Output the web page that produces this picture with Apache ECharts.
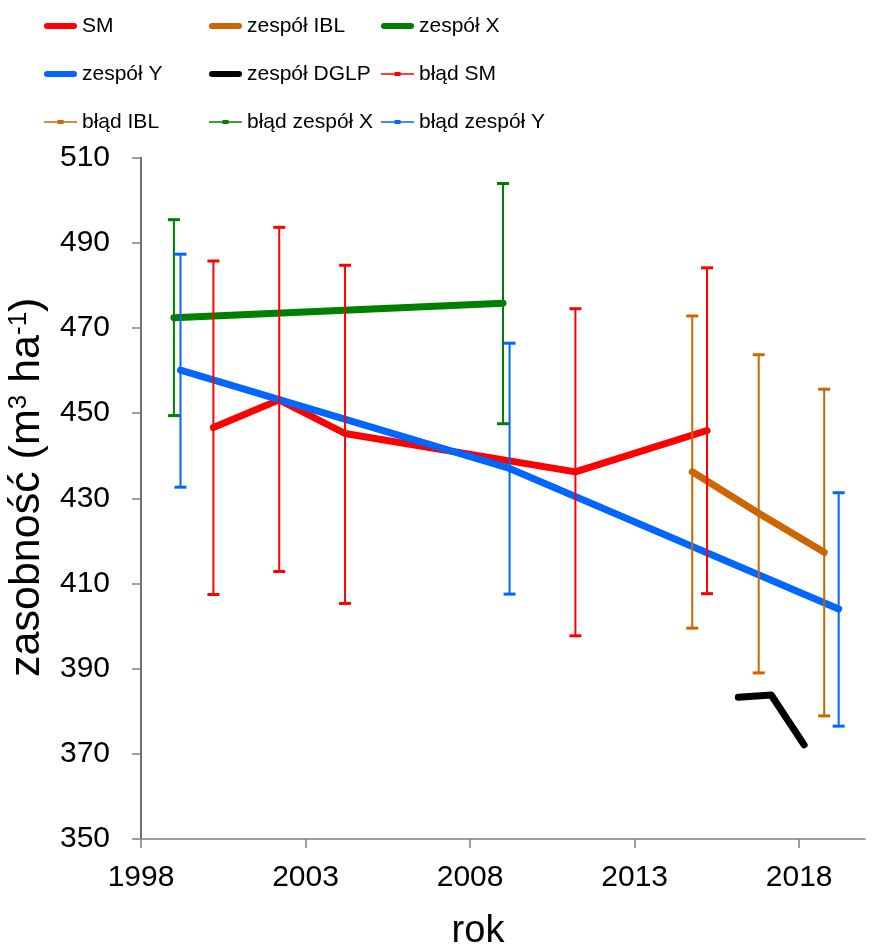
<!DOCTYPE html>
<html>
<head>
<meta charset="utf-8">
<script src="https://cdn.jsdelivr.net/npm/echarts@6/dist/echarts.min.js"></script>
<style>html,body{margin:0;padding:0;background:#fff}#c{width:877px;height:944px}</style>
</head>
<body>
<div id="c"></div>
<script>
// ---- data ----
const xTicks = [1998, 2003, 2008, 2013, 2018];
const yTicks = [350, 370, 390, 410, 430, 450, 470, 490, 510];

const smYears = [2000.2, 2002.2, 2004.2, 2011.2, 2015.2];
const smValues = [446.6, 453.1, 445.2, 436.2, 445.9];
const smLow = [407.4, 412.8, 405.3, 397.7, 407.6];
const smHigh = [485.7, 493.6, 484.7, 474.5, 484.1];

const iblYears = [2014.75, 2016.77, 2018.76];
const iblValues = [436.2, 426.5, 417.3];
const iblLow = [399.5, 389.0, 378.9];
const iblHigh = [472.8, 463.7, 455.6];

const xYears = [1999, 2009];
const xValues = [472.4, 475.8];
const xLow = [449.4, 447.5];
const xHigh = [495.4, 503.9];

const yYears = [1999.2, 2009.2, 2019.2];
const yValues = [460.1, 437.0, 404.0];
const yLow = [432.6, 407.5, 376.5];
const yHigh = [487.3, 466.4, 431.3];

const dglpYears = [2016.15, 2017.15, 2018.15];
const dglpValues = [383.3, 383.8, 372.1];

// legend columns (reading order of the reference legend grid)
const legendCol1 = ['SM', 'zespół Y', 'błąd IBL'];
const legendCol2 = ['zespół IBL', 'zespół DGLP', 'błąd zespół X'];
const legendCol3 = ['zespół X', 'błąd SM', 'błąd zespół Y'];

// ---- helpers ----
const pairs = (xs, ys) => xs.map((x, i) => [x, ys[i]]);
const triples = (xs, lo, hi) => xs.map((x, i) => [x, lo[i], hi[i]]);

const C_RED = '#FF0000', C_ORANGE = '#CC6600', C_GREEN = '#008000', C_BLUE = '#0066FF', C_BLACK = '#000000';

function lineSeries(name, xs, ys, color) {
  return {
    name, type: 'line', data: pairs(xs, ys), symbol: 'none', showSymbol: false,
    color: color,
    lineStyle: { color, width: 7, cap: 'round', join: 'round' },
    z: 2, animation: false
  };
}

function errSeries(name, xs, lo, hi, color) {
  return {
    name, type: 'custom', data: triples(xs, lo, hi),
    encode: { x: 0, y: [1, 2] },
    itemStyle: { color },
    z: 5, animation: false,
    renderItem: function (params, api) {
      const x = api.value(0), l = api.value(1), h = api.value(2);
      const pL = api.coord([x, l]);
      const pH = api.coord([x, h]);
      const hw = 6;
      return {
        type: 'group',
        children: [
          { type: 'line', shape: { x1: pL[0], y1: pL[1], x2: pH[0], y2: pH[1] }, style: { stroke: color, lineWidth: 2 } },
          { type: 'line', shape: { x1: pH[0] - hw, y1: pH[1], x2: pH[0] + hw, y2: pH[1] }, style: { stroke: color, lineWidth: 3 } },
          { type: 'line', shape: { x1: pL[0] - hw, y1: pL[1], x2: pL[0] + hw, y2: pL[1] }, style: { stroke: color, lineWidth: 3 } }
        ]
      };
    }
  };
}

const thickIcon = 'path://M3,0 L30,0 A3,3 0 0 1 30,6 L3,6 A3,3 0 0 1 3,0 Z';
const errIcon = 'path://M0,2.2 L33,2.2 L33,3.8 L0,3.8 Z M13.5,1 L19.5,1 L19.5,5 L13.5,5 Z';
const iconFor = name => (name.indexOf('błąd') === 0 ? errIcon : thickIcon);

const FONT = "'Liberation Sans', Arial, sans-serif";

function legendColumn(names, left) {
  return {
    left: left, top: 6,
    orient: 'vertical',
    itemWidth: 33, itemHeight: 6, itemGap: 18,
    selectedMode: false,
    textStyle: { fontFamily: FONT, fontSize: 21, color: '#000', lineHeight: 30 },
    data: names.map(n => ({ name: n, icon: iconFor(n) }))
  };
}

const chart = echarts.init(document.getElementById('c'), null, { renderer: 'canvas' });
chart.setOption({
  animation: false,
  backgroundColor: '#fff',
  grid: { left: 141, right: 12, top: 157.5, bottom: 105, containLabel: false, outerBoundsMode: 'none' },
  legend: [
    legendColumn(legendCol1, 39),
    legendColumn(legendCol2, 204),
    legendColumn(legendCol3, 376)
  ],
  xAxis: {
    type: 'value', min: 1998, max: 2020,
    name: 'rok', nameLocation: 'middle', nameGap: 74,
    nameTextStyle: { fontFamily: FONT, fontSize: 38, color: '#000', padding: [0, 50, 0, 0] },
    axisLine: { show: true, lineStyle: { color: '#7f7f7f', width: 1.5 } },
    axisTick: { show: true, inside: false, length: 9, customValues: xTicks, lineStyle: { color: '#7f7f7f', width: 1.5 } },
    axisLabel: { customValues: xTicks, margin: 24, fontFamily: FONT, fontSize: 30, color: '#000', formatter: v => String(v) },
    splitLine: { show: false }
  },
  yAxis: {
    type: 'value', min: 350, max: 510, interval: 20,
    name: 'zasobność (m{sup|3} ha{sup|-1})', nameLocation: 'middle', nameGap: 86, nameRotate: 90,
    nameTextStyle: {
      fontFamily: FONT, fontSize: 43, color: '#000', padding: [0, 0, 0, 22],
      rich: { sup: { fontFamily: FONT, fontSize: 26, verticalAlign: 'top', color: '#000' } }
    },
    axisLine: { show: true, lineStyle: { color: '#404040', width: 1.5 } },
    axisTick: { show: true, length: 9, lineStyle: { color: '#7f7f7f', width: 1.5 } },
    axisLabel: { margin: 31, fontFamily: FONT, fontSize: 30, color: '#000', formatter: v => String(v) },
    splitLine: { show: false }
  },
  series: [
    lineSeries('SM', smYears, smValues, C_RED),
    lineSeries('zespół IBL', iblYears, iblValues, C_ORANGE),
    lineSeries('zespół X', xYears, xValues, C_GREEN),
    lineSeries('zespół Y', yYears, yValues, C_BLUE),
    lineSeries('zespół DGLP', dglpYears, dglpValues, C_BLACK),
    errSeries('błąd SM', smYears, smLow, smHigh, C_RED),
    errSeries('błąd IBL', iblYears, iblLow, iblHigh, C_ORANGE),
    errSeries('błąd zespół X', xYears, xLow, xHigh, C_GREEN),
    errSeries('błąd zespół Y', yYears, yLow, yHigh, C_BLUE)
  ]
});
</script>
</body>
</html>
